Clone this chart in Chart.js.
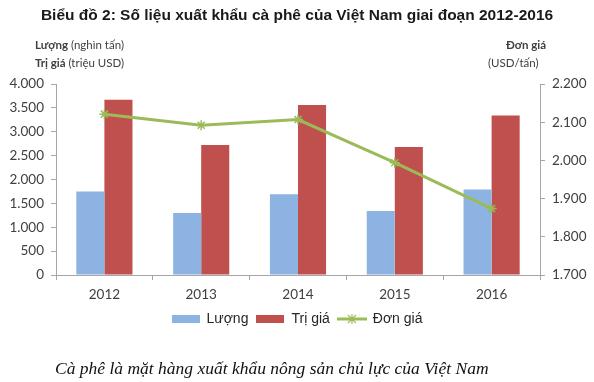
<!DOCTYPE html>
<html>
<head>
<meta charset="utf-8">
<script src="https://cdn.jsdelivr.net/npm/chart.js@4/dist/chart.umd.min.js"></script>
<style>
  body { margin: 0; background: #fff; }
  #wrap { position: relative; width: 594px; height: 382px; overflow: hidden; }
  #myChart { position: absolute; left: 0; top: 0; }
  .txt { position: absolute; white-space: nowrap; color: #404040; }
  #title { top: 6px; left: 0; width: 594px; text-align: center; font: bold 15.5px "Liberation Sans", Arial, sans-serif; color: #1a1a1a; }
  .ax { font: 11.5px Lato, sans-serif; }
  .ax b { font-weight: bold; }
  #caption { top: 358px; left: 55px; font: italic 17.5px "Liberation Serif", "Times New Roman", serif; color: #111; }
</style>
</head>
<body>
<div id="wrap">
  <canvas id="myChart" width="594" height="382"></canvas>
  <div id="title" class="txt">Biểu đồ 2: Số liệu xuất khẩu cà phê của Việt Nam giai đoạn 2012-2016</div>
  <div class="txt ax" style="top:38px;left:35px;"><b>Lượng</b> (nghìn tấn)</div>
  <div class="txt ax" style="top:56px;left:35px;"><b>Trị giá</b> (triệu USD)</div>
  <div class="txt ax" style="top:38px;left:506px;"><b>Đơn giá</b></div>
  <div class="txt ax" style="top:56px;left:488px;">(USD/tấn)</div>
  <div id="caption" class="txt">Cà phê là mặt hàng xuất khẩu nông sản chủ lực của Việt Nam</div>
</div>
<script>
// du lieu
const years = ['2012', '2013', '2014', '2015', '2016'];
const luong = [1750, 1300, 1690, 1340, 1790];
const triGia = [3670, 2720, 3560, 2680, 3340];
const donGia = [2121, 2092, 2107, 1994, 1874];

const blue = '#8DB3E2';
const red = '#C0504D';
const green = '#9BBB59';
const axisGray = '#A6A6A6';
const tickColor = '#404040';

// dấu chấm ngăn cách hàng nghìn
const fmt = v => {
  const s = Math.round(v).toString();
  return s.replace(/\B(?=(\d{3})+(?!\d))/g, '.');
};

// legend symbols
function boxIcon(color) {
  const c = document.createElement('canvas');
  c.width = 28; c.height = 8;
  const g = c.getContext('2d');
  g.fillStyle = color;
  g.fillRect(0, 0, 28, 8);
  return c;
}
function lineIcon() {
  const c = document.createElement('canvas');
  c.width = 30; c.height = 12;
  const g = c.getContext('2d');
  g.strokeStyle = green;
  g.lineWidth = 3;
  g.beginPath(); g.moveTo(0, 6); g.lineTo(30, 6); g.stroke();
  g.lineWidth = 1.2;
  g.beginPath();
  g.moveTo(11, 2); g.lineTo(19, 10);
  g.moveTo(19, 2); g.lineTo(11, 10);
  g.moveTo(15, 1); g.lineTo(15, 11);
  g.stroke();
  return c;
}
const icons = [boxIcon(blue), boxIcon(red), lineIcon()];

const data = {
  labels: years,
  datasets: [{
    type: 'bar',
    label: 'Lượng',
    data: luong,
    backgroundColor: blue,
    yAxisID: 'y',
    order: 1
  },
  {
    type: 'bar',
    label: 'Trị giá',
    data: triGia,
    backgroundColor: red,
    yAxisID: 'y',
    order: 1
  },
  {
    type: 'line',
    label: 'Đơn giá',
    data: donGia,
    borderColor: green,
    backgroundColor: green,
    borderWidth: 3,
    pointStyle: 'star',
    pointRadius: 5,
    pointBorderWidth: 1.5,
    pointBorderColor: green,
    tension: 0,
    yAxisID: 'y1',
    order: 0
  }]
};

const config = {
  type: 'bar',
  data: data,
  options: {
    responsive: false,
    devicePixelRatio: 1,
    animation: false,
    datasets: {
      bar: { categoryPercentage: 0.58, barPercentage: 1.0 }
    },
    layout: { padding: { top: 84, bottom: 46, left: 0, right: 0 } },
    scales: {
      x: {
        offset: true,
        grid: { display: true, drawOnChartArea: false, offset: true, color: axisGray, tickLength: 5 },
        border: { color: axisGray, width: 1 },
        ticks: { color: tickColor, font: { family: 'Lato', size: 13.5 }, padding: 7 },
        afterFit: s => { s.height = 29; }
      },
      y: {
        position: 'left',
        min: 0, max: 4000,
        ticks: { stepSize: 500, color: tickColor, font: { family: 'Lato', size: 13.5 }, padding: 7, callback: fmt },
        grid: { drawOnChartArea: false, color: axisGray, tickLength: 5 },
        border: { color: axisGray, width: 1 },
        afterFit: s => { s.width = 56; }
      },
      y1: {
        position: 'right',
        min: 1700, max: 2200,
        ticks: { stepSize: 100, color: tickColor, font: { family: 'Lato', size: 13.5 }, padding: 7, callback: fmt },
        grid: { drawOnChartArea: false, color: axisGray, tickLength: 5 },
        border: { color: axisGray, width: 1 },
        afterFit: s => { s.width = 54; }
      }
    },
    plugins: {
      tooltip: { enabled: false },
      legend: {
        position: 'bottom',
        labels: {
          usePointStyle: true,
          pointStyleWidth: 28,
          boxHeight: 8,
          padding: 8,
          color: '#262626',
          font: { family: 'Liberation Sans', size: 14 },
          sort: (a, b) => a.datasetIndex - b.datasetIndex,
          generateLabels: chart => chart.data.datasets.map((ds, i) => ({
            text: ds.label,
            pointStyle: icons[i],
            fillStyle: ds.backgroundColor,
            strokeStyle: ds.backgroundColor,
            lineWidth: 0,
            hidden: false,
            datasetIndex: i,
            fontColor: '#262626'
          }))
        }
      }
    }
  }
};

const myChart = new Chart(document.getElementById('myChart'), config);
</script>
</body>
</html>
